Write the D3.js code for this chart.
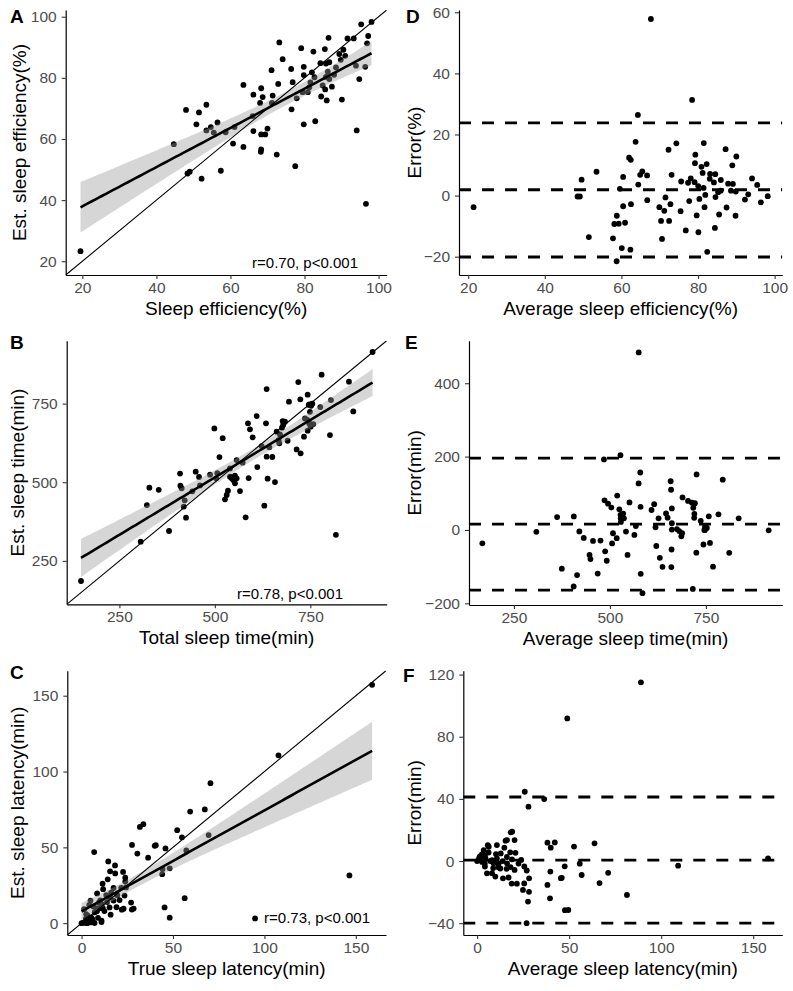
<!DOCTYPE html>
<html><head><meta charset="utf-8">
<script src="https://cdn.jsdelivr.net/npm/d3@7"></script>
<style>body{margin:0;background:#fff;} svg{display:block;font-family:"Liberation Sans", Arial, Helvetica, sans-serif;}</style>
</head><body>
<svg id="chart" width="793" height="991"></svg>
<script>
// ---- Sleep efficiency (%) : true vs estimated ----
const seTrue = [19.5,44.7,48.0,48.4,49.0,50.8,51.5,52.2,53.5,53.5,54.7,55.5,56.5,57.4,58.7,60.7,61.1,63.5,68.2,68.3,72.5,77.5,96.6,63.5,66.2,68.3,68.7,68.0,71.4,71.2,73.2,74.1,71.1,72.9,76.5,76.8,76.4,79.1,79.8,79.8,77.9,79.5,80.9,81.3,81.6,82.4,82.7,82.0,82.9,79.8,84.3,84.5,85.5,86.5,85.8,86.7,86.3,85.6,86.0,87.4,84.9,86.7,88.5,90.1,89.4,89.8,90.5,91.0,91.6,93.3,93.9,94.8,94.1,95.3,96.4,97.2,96.9,98.1,66.2,68.3,69.4,70.0,66.0,85.8,88.0];
const seEst  = [23.3,58.3,69.5,48.7,49.3,64.8,68.7,47.0,71.2,62.8,63.9,62.1,65.4,49.6,62.2,58.5,63.9,57.4,55.8,56.6,54.9,51.1,38.8,77.7,74.5,76.6,73.7,71.8,74.2,71.8,91.6,86.1,82.5,78.0,69.7,78.6,82.9,89.7,83.6,80.9,73.3,75.3,75.3,76.9,78.5,88.6,80.2,81.8,65.8,64.8,84.8,73.9,89.4,93.1,84.7,85.1,82.0,76.2,72.6,77.1,77.5,79.6,83.4,72.9,87.8,85.9,89.2,87.2,92.9,92.9,84.0,79.6,62.8,97.5,83.6,93.7,91.3,98.3,62.6,61.5,61.5,63.4,67.5,80.3,81.0];

// ---- Total sleep time (min) ----
const tstTrue = [149.5,305.8,322,328.5,353,380,408.8,409.7,413,421,418.4,424.5,441,449.8,458.5,461,487.4,498.7,506.5,512,520.5,526.5,531,534.3,539.6,544,548.3,552.7,557,565.8,539.6,557,572.8,580.6,586.7,588.5,592,599,609.4,611.2,622.5,629.5,633.9,635.6,635.6,638.2,642.6,650.4,657.4,661.8,668.8,670.5,675.8,677.5,679,683.6,690.6,694.1,714.1,718.5,723.8,724.6,733.4,736,742,743,743,747.3,747.3,749,750.8,755.2,757.8,776.1,779.6,817,801.4,804,851.2,862.5,913,503.5,552.5,667,745.9,752.2];
const tstEst  = [186,311,427.6,482.7,476,345,527.6,489,481,442.7,422.4,387.5,471,533.7,516.7,490,524,671,529,580,640,445.6,459.4,473.2,517.7,512.4,507.1,496.5,512.4,472.1,544,570.6,562.2,388.4,687.2,513.4,668.1,642.7,710.5,548.4,615.1,425.5,687.2,796.3,581.2,511.3,610.9,580.2,500.7,660.7,623.6,652.2,673.4,694.6,682,692.5,632,756,604.5,818.6,763.5,591.8,644.8,703,698,778.3,663.9,687,747.6,724,676.6,749.7,685,739,841.9,333,650.1,761.4,819.6,725.3,914,512.5,520.7,633.5,745.9,743.1];

// ---- Sleep latency (min) ----
const slTrue = [146.5,94.9,158.9,107.7,70.5,67.4,59.4,69.5,52.3,54.9,57.3,31.9,33.8,45.9,40.0,40.6,27.6,36.4,44.3,44.1,48.2,56.4,48.2,45.4,30.5,6.9,14.6,18.3,18.4,15.6,22.7,23.9,23.9,24.3,17.5,14.3,11.5,11.8,23.0,27.5,28.5,27.1,22.0,19.1,23.5,20.8,17.5,15.3,15.9,10.9,10.9,11.6,8.4,7.1,10.2,8.2,1.4,4.9,8.5,4.2,3.4,3.7,0.0,2.4,5.4,7.2,9.9,11.0,13.9,15.5,19.5,21.7,1.0,2.0,3.0,4.7,6.0,9.0,12.5,13.5,6.5,2.5,16.2,9.5];
const slEst  = [31.5,3.1,157.2,110.7,92.3,75.0,73.6,58.1,61.3,56.6,48.0,63.5,65.3,49.3,51.0,51.4,51.6,43.2,35.7,32.3,36.2,16.5,3.6,10.4,45.9,46.9,40.7,38.1,32.8,34.2,33.8,30.0,27.4,23.6,23.2,28.9,26.0,22.4,9.5,9.0,9.6,13.6,8.9,10.5,18.2,15.2,14.9,10.4,5.6,1.7,0.7,9.9,7.8,0.1,15.0,9.7,9.3,14.9,19.6,12.0,4.9,0.9,0.0,3.0,3.7,7.2,9.9,12.5,13.9,17.0,18.4,23.3,0.4,0.2,0.0,0.5,2.5,3.5,8.0,18.5,11.0,6.0,20.1,13.5];

// ---- Bland-Altman reference lines (mean bias, upper / lower limits) ----
const baSE  = [1.9, 23.8, -20.1];
const baTST = [16, 196, -164];
const baSL  = [0.6, 41.2, -40.0];

// ---- Tick labels ----
const ticksSE = [20,40,60,80,100];
const ticksSEerr = [-20,0,20,40,60];
const ticksTST = [250,500,750];
const ticksTSTerr = [-200,0,200,400];
const ticksSL = [0,50,100,150];
const ticksSLerr = [-40,0,40,80,120];

const notes = ["r=0.70, p<0.001","r=0.78, p<0.001","r=0.73, p<0.001"];

const panels = [
 {label:"A", kind:"scatter", xv:seTrue, yv:seEst, box:[65.7,386.7,10,275], xDom:[15.5,102.2], yDom:[15.5,102.2], xT:ticksSE, yT:ticksSE,
  xTitle:"Sleep efficiency(%)", yTitle:"Est. sleep efficiency(%)", lab:[10,23], yTitleX:26, note:notes[0], noteX:358, noteY:268},
 {label:"B", kind:"scatter", xv:tstTrue, yv:tstEst, box:[66.7,386.7,340.7,604.3], xDom:[112,950], yDom:[112,950], xT:ticksTST, yT:ticksTST,
  xTitle:"Total sleep time(min)", yTitle:"Est. sleep time(min)", lab:[10,349], yTitleX:24, note:notes[1], noteX:343, noteY:599},
 {label:"C", kind:"scatter", xv:slTrue, yv:slEst, box:[67.3,386,670.7,935], xDom:[-7.8,166.5], yDom:[-7.8,166.5], xT:ticksSL, yT:ticksSL,
  xTitle:"True sleep latency(min)", yTitle:"Est. sleep latency(min)", lab:[10,679], yTitleX:24, note:notes[2], noteX:370, noteY:923},
 {label:"D", kind:"ba", xv:seTrue, yv:seEst, ba:baSE, box:[459,782.3,10,275], xDom:[17.6,102], yDom:[-26,60.75], xT:ticksSE, yT:ticksSEerr,
  xTitle:"Average sleep efficiency(%)", yTitle:"Error(%)", lab:[406,23], yTitleX:421},
 {label:"E", kind:"ba", xv:tstTrue, yv:tstEst, ba:baTST, box:[469,782.3,340.7,605], xDom:[133,949], yDom:[-204.6,516], xT:ticksTST, yT:ticksTSTerr,
  xTitle:"Average sleep time(min)", yTitle:"Error(min)", lab:[405,349], yTitleX:421},
 {label:"F", kind:"ba", xv:slTrue, yv:slEst, ba:baSL, box:[463.3,782.3,670.7,935], xDom:[-7.5,165.8], yDom:[-47.6,122.5], xT:ticksSL, yT:ticksSLerr,
  xTitle:"Average sleep latency(min)", yTitle:"Error(min)", lab:[403,682], yTitleX:421}
];

const svg = d3.select("#chart");
const T975 = 1.99;

function lmFit(xs, ys){
  const n = xs.length, mx = d3.mean(xs), my = d3.mean(ys);
  let sxx=0, sxy=0;
  xs.forEach((v,i)=>{ sxx += (v-mx)*(v-mx); sxy += (v-mx)*(ys[i]-my); });
  const b = sxy/sxx, a = my - b*mx;
  let sse = 0; xs.forEach((v,i)=>{ const r = ys[i]-a-b*v; sse += r*r; });
  const s = Math.sqrt(sse/(n-2));
  return {a,b,s,n,mx,sxx};
}

panels.forEach(p=>{
  const [L,R,Tp,B] = p.box;
  const x = d3.scaleLinear().domain(p.xDom).range([L,R]);
  const y = d3.scaleLinear().domain(p.yDom).range([B,Tp]);
  const g = svg.append("g");
  const cid = "clip"+p.label;
  svg.append("clipPath").attr("id",cid).append("rect").attr("x",L).attr("y",Tp).attr("width",R-L).attr("height",B-Tp);
  const plot = g.append("g").attr("clip-path",`url(#${cid})`);

  let pts;
  if(p.kind==="scatter"){
    pts = p.xv.map((v,i)=>[v,p.yv[i]]);
  } else {
    pts = p.xv.map((v,i)=>[(v+p.yv[i])/2, v-p.yv[i]]);
  }

  if(p.kind==="ba"){
    plot.selectAll("circle").data(pts).join("circle")
      .attr("cx",d=>x(d[0])).attr("cy",d=>y(d[1])).attr("r",2.9).attr("fill","#000");
    plot.selectAll("line.ba").data(p.ba).join("line").attr("class","ba")
      .attr("x1",L).attr("x2",R).attr("y1",d=>y(d)).attr("y2",d=>y(d))
      .attr("stroke","#000").attr("stroke-width",2.8).attr("stroke-dasharray","12,11");
  } else {
    plot.selectAll("circle").data(pts).join("circle")
      .attr("cx",d=>x(d[0])).attr("cy",d=>y(d[1])).attr("r",2.9).attr("fill","#000");
    const f = lmFit(p.xv,p.yv);
    const xr = d3.extent(p.xv);
    const xsamp = d3.range(0,81).map(i=>xr[0]+(xr[1]-xr[0])*i/80);
    const band = xsamp.map(v=>{
      const yh = f.a+f.b*v;
      const se = f.s*Math.sqrt(1/f.n + (v-f.mx)*(v-f.mx)/f.sxx);
      return [v, yh-T975*se, yh+T975*se, yh];
    });
    plot.append("path").datum(band)
      .attr("d", d3.area().x(d=>x(d[0])).y0(d=>y(d[1])).y1(d=>y(d[2])))
      .attr("fill","#999999").attr("fill-opacity",0.4);
    plot.append("path").datum(band)
      .attr("d", d3.line().x(d=>x(d[0])).y(d=>y(d[3])))
      .attr("fill","none").attr("stroke","#000").attr("stroke-width",2.6);
    const d0 = Math.max(p.xDom[0],p.yDom[0]), d1 = Math.min(p.xDom[1],p.yDom[1]);
    plot.append("line").attr("x1",x(d0)).attr("y1",y(d0)).attr("x2",x(d1)).attr("y2",y(d1))
      .attr("stroke","#000").attr("stroke-width",1.1);
    g.append("text").attr("x",p.noteX).attr("y",p.noteY).attr("text-anchor","end")
      .attr("font-size",15).attr("fill","#000").text(p.note);
  }

  const xa = g.append("g").attr("transform",`translate(0,${B})`)
    .call(d3.axisBottom(x).tickValues(p.xT).tickSize(4).tickSizeOuter(0).tickPadding(3));
  const ya = g.append("g").attr("transform",`translate(${L},0)`)
    .call(d3.axisLeft(y).tickValues(p.yT).tickSize(4).tickSizeOuter(0).tickPadding(5));
  [xa,ya].forEach(a=>{
    a.select(".domain").attr("stroke","#000").attr("stroke-width",1.2);
    a.selectAll(".tick line").attr("stroke","#333").attr("stroke-width",1.1);
    a.selectAll(".tick text").attr("fill","#4d4d4d").attr("font-size",15.5).attr("font-family","Liberation Sans, Arial, sans-serif");
  });

  g.append("text").attr("x",(L+R)/2).attr("y",B+40).attr("text-anchor","middle")
    .attr("font-size",19).attr("fill","#000").text(p.xTitle);
  g.append("text").attr("transform",`translate(${p.yTitleX},${(Tp+B)/2}) rotate(-90)`)
    .attr("text-anchor","middle").attr("font-size",19).attr("fill","#000").text(p.yTitle);
  g.append("text").attr("x",p.lab[0]).attr("y",p.lab[1]).attr("font-size",19).attr("font-weight","bold")
    .attr("fill","#000").text(p.label);
});
</script>
</body></html>
